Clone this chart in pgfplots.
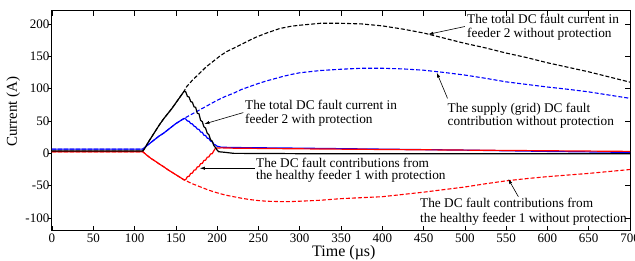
\documentclass[border=0pt]{standalone}
\usepackage{fontspec}
\setmainfont{Liberation Serif}
\usepackage{pgfplots}
\pgfplotsset{compat=1.18}
\usetikzlibrary{arrows.meta}
\begin{document}
\begin{tikzpicture}
\useasboundingbox (-52pt,-30pt) rectangle (583pt,231pt);
\begin{axis}[
  scale only axis, width=578pt, height=220pt,
  xmin=0, xmax=700, ymin=-120, ymax=220,
  xtick={0,50,...,700}, ytick={-100,-50,...,200},
  tick align=inside,
  ytick pos=right, yticklabel pos=left,
  major tick length=5pt,
  every tick/.style={black, line width=0.6pt},
  axis line style={line width=1pt},
  /pgf/number format/assume math mode=true,
  ticklabel style={font=\fontsize{13}{13}\selectfont},
  xticklabel style={inner sep=0pt, yshift=-3pt},
  yticklabel style={inner sep=0pt, xshift=-2.5pt},
  xlabel={Time (µs)}, ylabel={Current (A)},
  xlabel style={font=\fontsize{16}{16}\selectfont, at={(axis description cs:0.505,-0.097)}, anchor=center},
  ylabel style={font=\fontsize{15}{15}\selectfont, at={(axis description cs:-0.067,0.542)}, anchor=center},
  clip=false,
  dashline/.style={line width=1.1pt, dash pattern=on 4pt off 2pt},
  solidline/.style={line width=1.2pt},
]
% without protection (dashed)
\addplot[black, dashline] coordinates {(0,3.5)(110,3.5)(113,9)(116,16)(120,24)(125,34)(130,44)(135,53)(140,61)(145,69)(150,78)(155,87)(160,96)(163,103)(170,113)(179,124)(187,134)(195,142)(203,150)(211,157)(220,162.5)(228,167.5)(238,174)(248,180)(260,186)(276,193)(290,196.5)(300,198)(325,201)(350,201)(375,200)(400,197)(425,192)(450,186)(475,178)(500,170)(525,163)(550,155)(575,148)(600,140)(625,133)(650,126)(675,118)(700,110)};
\addplot[blue, dashline] coordinates {(0,6.5)(110,6.5)(115,12)(120,17)(125,22)(130,27)(135,31)(140,36)(145,41)(150,46)(155,50)(160,54)(170,61)(180,68)(190,75)(200,82)(210,88)(220,93)(230,99)(240,103.5)(250,108)(260,112)(270,115.5)(280,119)(290,122)(300,124.5)(325,128)(350,130)(375,131.5)(400,131.5)(425,130.5)(450,128.5)(475,125)(500,121)(525,116)(550,110.5)(575,106.5)(600,102.5)(625,99)(650,95)(675,90)(700,85)};
\addplot[red, dashline] coordinates {(0,2.5)(110,2.5)(115,-3)(120,-8)(125,-12)(130,-16.5)(135,-20.5)(140,-25)(145,-29)(150,-33)(155,-37)(160,-41)(170,-47)(180,-52)(190,-57)(200,-61)(210,-64.5)(220,-67)(230,-69.5)(240,-71.5)(250,-73)(260,-74)(275,-74.5)(290,-74.5)(300,-74)(325,-72.5)(350,-70)(375,-68.5)(400,-67)(425,-63.5)(450,-60)(475,-56)(500,-52)(525,-47)(550,-42.5)(575,-39)(600,-36)(625,-33.5)(650,-31)(675,-28)(700,-25)};
% with protection (solid)
\addplot[blue, solidline] coordinates {(0,6.5)(110,6.5)(115,12)(120,17)(125,22)(130,27)(135,31)(140,36)(145,41)(150,46)(155,50)(160,54)(162,53)(164,50)(166,49.5)(168,46)(170,45.5)(172,42)(174,41)(176,37.5)(178,37)(180,33)(182,32.5)(184,28)(186,27.5)(188,23.5)(190,23)(192,19)(194,18)(196,14)(198,13)(200,11)(205,9.5)(220,9)(300,8)(400,6.5)(500,5)(600,3)(700,1.5)};
\addplot[red, solidline] coordinates {(0,2.5)(110,2.5)(115,-3)(120,-8)(125,-12)(130,-16.5)(135,-20.5)(140,-25)(145,-29)(150,-33)(155,-37)(160,-41)(162,-40.5)(164,-36)(166,-35.5)(168,-31)(170,-30.5)(172,-26)(174,-25.5)(176,-21)(178,-20.5)(180,-16)(182,-15.5)(184,-11)(186,-10.5)(188,-6)(190,-5.5)(192,-1)(194,-0.5)(196,4)(198,8)(205,8.5)(220,8)(300,7)(400,6)(500,5)(600,4)(700,3)};
\addplot[black, solidline] coordinates {(0,3.5)(110,3.5)(113,9)(116,16)(120,24)(125,34)(130,44)(135,53)(140,61)(145,69)(150,78)(155,87)(160,96)(162,95)(164,88)(166,87)(168,80)(170,79)(172,72)(174,71)(176,62)(178,61)(180,51)(182,49)(184,41)(186,39)(188,31)(190,29)(192,21)(194,19)(196,12)(198,9)(200,5)(202,2.5)(210,1.5)(220,0)(300,-0.5)(700,-0.5)};
% annotations
\begin{scope}[every node/.style={font=\fontsize{13.3}{13.3}\selectfont, inner sep=0pt, anchor=base west}]
\node at (axis cs:502.6,200) {The total DC fault current in};
\node at (axis cs:502.6,179.8) {feeder 2 without protection};
\node at (axis cs:479,63.5) {The supply (grid) DC fault};
\node at (axis cs:479,42.8) {contribution without protection};
\node at (axis cs:233.7,67) {The total DC fault current in};
\node at (axis cs:233.7,46.5) {feeder 2 with protection};
\node at (axis cs:247,-21.5) {The DC fault contributions from};
\node at (axis cs:247,-41) {the healthy feeder 1 with protection};
\node at (axis cs:445.7,-84.4) {The DC fault contributions from};
\node at (axis cs:445.7,-106.5) {the healthy feeder 1 without protection};
\end{scope}
\begin{scope}[line width=0.6pt, -{Latex[length=5pt,width=3.2pt]}]
\draw (axis cs:500,196) -- (axis cs:455.8,184);
\draw (axis cs:479,85) -- (axis cs:466,124.7);
\draw (axis cs:231.7,63) -- (axis cs:184.5,45.4);
\draw (axis cs:245.8,-23) -- (axis cs:179,-23);
\draw (axis cs:564.8,-67) -- (axis cs:552.6,-39.6);
\end{scope}
\end{axis}
\begin{axis}[
  scale only axis, width=578pt, height=220pt,
  xmin=0, xmax=700, ymin=-120, ymax=220,
  xtick=\empty, ytick={-100,-50,...,200}, yticklabels={},
  ytick pos=left, tick align=outside,
  major tick length=4pt,
  every tick/.style={black, line width=0.6pt},
  axis line style={draw=none},
]
\end{axis}
\end{tikzpicture}
\end{document}
